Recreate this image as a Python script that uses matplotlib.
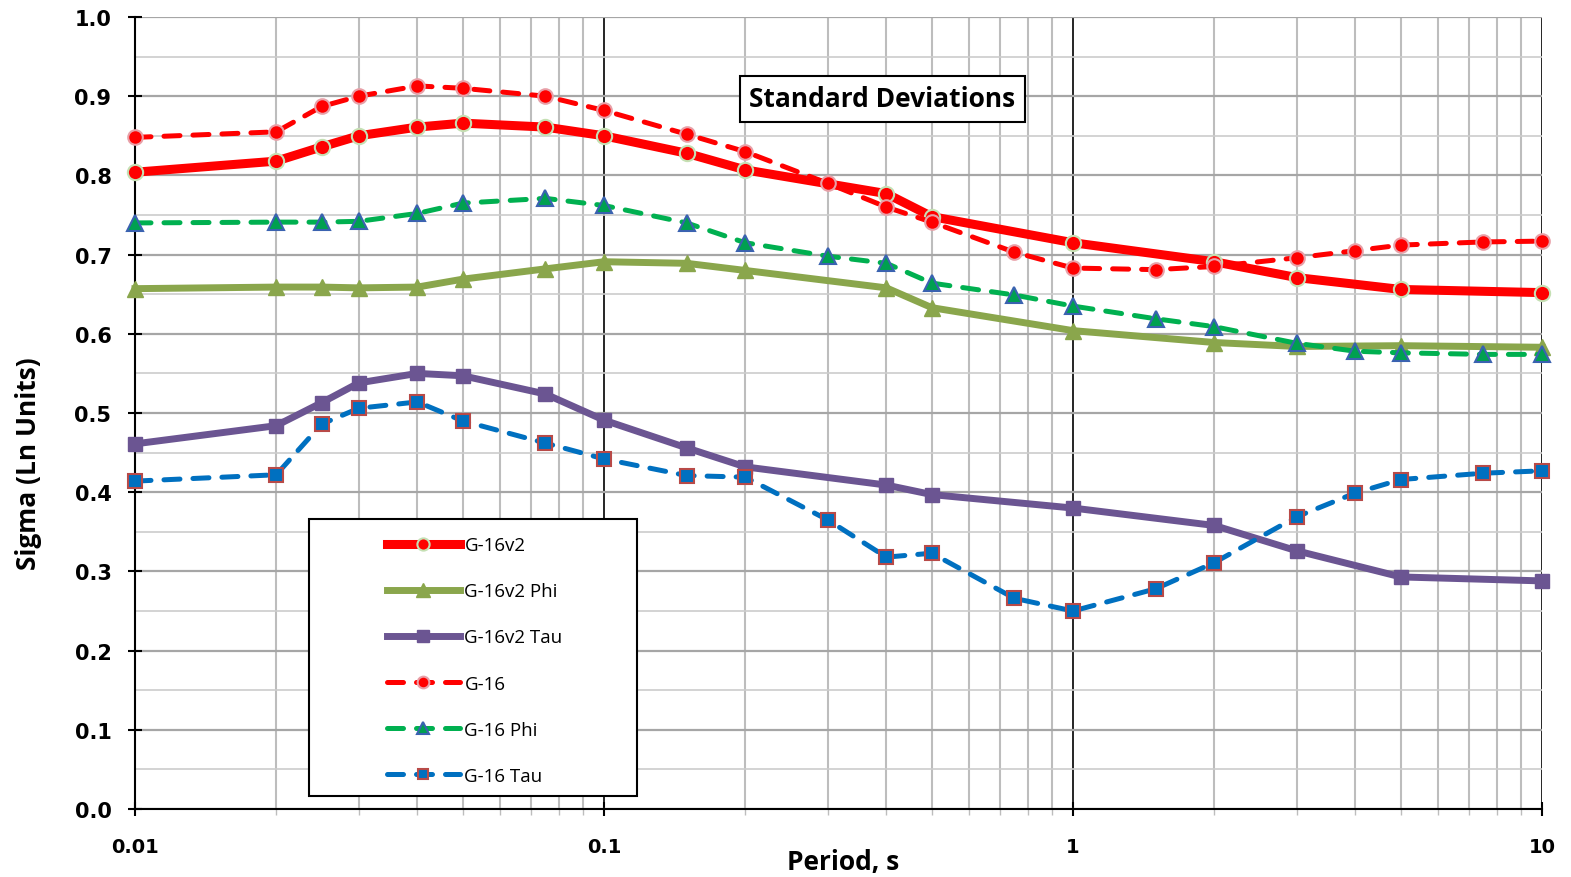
import matplotlib
matplotlib.use("Agg")
import matplotlib.pyplot as plt
from matplotlib.patches import Rectangle
from matplotlib.ticker import FixedLocator, FuncFormatter, MultipleLocator, NullFormatter

# periods (s) and sigma values
periods_v2 = [0.01, 0.02, 0.025, 0.03, 0.04, 0.05, 0.075, 0.1, 0.15, 0.2, 0.4, 0.5, 1, 2, 3, 5, 10]
sigma_v2 = [0.804, 0.818, 0.836, 0.850, 0.861, 0.866, 0.861, 0.850, 0.828, 0.807, 0.777, 0.748, 0.715, 0.691, 0.671, 0.656, 0.652]
phi_v2 = [0.657, 0.659, 0.659, 0.658, 0.659, 0.669, 0.682, 0.691, 0.689, 0.680, 0.658, 0.633, 0.604, 0.589, 0.584, 0.585, 0.583]
tau_v2 = [0.461, 0.484, 0.513, 0.538, 0.550, 0.547, 0.524, 0.491, 0.456, 0.432, 0.409, 0.397, 0.380, 0.358, 0.326, 0.293, 0.288]

periods_g16 = [0.01, 0.02, 0.025, 0.03, 0.04, 0.05, 0.075, 0.1, 0.15, 0.2, 0.3, 0.4, 0.5, 0.75, 1, 1.5, 2, 3, 4, 5, 7.5, 10]
sigma_g16 = [0.848, 0.855, 0.887, 0.900, 0.913, 0.910, 0.900, 0.882, 0.852, 0.830, 0.790, 0.760, 0.741, 0.703, 0.683, 0.681, 0.685, 0.696, 0.705, 0.712, 0.716, 0.717]
phi_g16 = [0.740, 0.741, 0.741, 0.742, 0.752, 0.765, 0.771, 0.762, 0.740, 0.715, 0.698, 0.689, 0.664, 0.649, 0.635, 0.619, 0.609, 0.588, 0.578, 0.576, 0.574, 0.574]
tau_g16 = [0.414, 0.422, 0.486, 0.506, 0.514, 0.490, 0.462, 0.442, 0.421, 0.419, 0.365, 0.318, 0.323, 0.266, 0.250, 0.278, 0.311, 0.369, 0.399, 0.416, 0.424, 0.427]

x_ticks = [0.01, 0.1, 1, 10]
x_tick_labels = ["0.01", "0.1", "1", "10"]

fig = plt.figure(figsize=(15.71, 8.78), dpi=100)
ax = fig.add_axes([135 / 1571, 68 / 878, 1407 / 1571, 792 / 878])

# solid = G-16v2, dashed = G-16
ax.plot(periods_v2, sigma_v2, color="#ff0000", lw=6.5, marker="o", ms=11,
        mfc="#ff0000", mec="#c5e0b4", mew=1.5, label="G-16v2", clip_on=False, zorder=3)
ax.plot(periods_v2, phi_v2, color="#8aa64c", lw=5, marker="^", ms=12,
        mfc="#8aa64c", mec="#8aa64c", label="G-16v2 Phi", clip_on=False, zorder=3)
ax.plot(periods_v2, tau_v2, color="#6b5592", lw=5, marker="s", ms=10,
        mfc="#6b5592", mec="#6b5592", label="G-16v2 Tau", clip_on=False, zorder=3)

dash = (3.2, 2.6)
ax.plot(periods_g16, sigma_g16, color="#ff0000", lw=3.6, ls=(0, dash), dash_capstyle="round",
        marker="o", ms=10.5, mfc="#ff0000", mec="#e8a0a8", mew=1.5, label="G-16", clip_on=False, zorder=4)
ax.plot(periods_g16, phi_g16, color="#00b050", lw=3.6, ls=(0, dash), dash_capstyle="round",
        marker="^", ms=11, mfc="#00a050", mec="#3a62b0", mew=1.5, label="G-16 Phi", clip_on=False, zorder=4)
ax.plot(periods_g16, tau_g16, color="#0070c0", lw=3.6, ls=(0, dash), dash_capstyle="round",
        marker="s", ms=9.5, mfc="#0070c0", mec="#b84a48", mew=1.5, label="G-16 Tau", clip_on=False, zorder=4)

ax.set_xscale("log")
ax.set_xlim(0.01, 10)
ax.set_ylim(0, 1.0)
ax.xaxis.set_major_locator(FixedLocator(x_ticks))
ax.xaxis.set_major_formatter(FuncFormatter(lambda v, p: x_tick_labels[x_ticks.index(v)] if v in x_ticks else ""))
ax.xaxis.set_minor_formatter(NullFormatter())
ax.yaxis.set_major_locator(MultipleLocator(0.1))
ax.yaxis.set_minor_locator(MultipleLocator(0.05))
ax.yaxis.set_major_formatter(FuncFormatter(lambda v, p: f"{v:.1f}"))

ax.grid(which="major", axis="x", color="black", lw=1.2, zorder=1)
ax.grid(which="minor", axis="x", color="#bdbdbd", lw=1.5, zorder=1)
ax.grid(which="major", axis="y", color="#a6a6a6", lw=1.6, zorder=1)
ax.grid(which="minor", axis="y", color="#cccccc", lw=1.2, zorder=1)
ax.set_axisbelow(True)

for s in ["top", "right"]:
    ax.spines[s].set_visible(False)
for s in ["left", "bottom"]:
    ax.spines[s].set_linewidth(1.5)
    ax.spines[s].set_zorder(2)

ax.tick_params(which="major", direction="inout", length=10, width=1.5, color="black")
ax.tick_params(axis="y", which="minor", length=0)
ax.tick_params(axis="x", which="minor", direction="out", length=4, width=1, color="#bdbdbd")
ax.tick_params(axis="y", pad=12)
ax.tick_params(axis="x", pad=15)
for lab in ax.get_yticklabels():
    lab.set_fontfamily("DejaVu Sans")
    lab.set_fontweight("bold")
    lab.set_fontsize(15)
for lab in ax.get_xticklabels():
    lab.set_fontfamily("DejaVu Sans")
    lab.set_fontweight("bold")
    lab.set_fontsize(14)

ax.set_xlabel("Period, s", fontfamily="Open Sans", fontweight="bold", fontsize=19)
ax.set_ylabel("Sigma (Ln Units)", fontfamily="Open Sans", fontweight="bold", fontsize=19)
ax.xaxis.set_label_coords(0.503, -0.049)
ax.yaxis.set_label_coords(-0.066, 0.437)

ax.text(0.531, 0.897, "Standard Deviations", transform=ax.transAxes, ha="center", va="center",
        fontfamily="Open Sans", fontweight="bold", fontsize=19, zorder=6,
        bbox=dict(boxstyle="square,pad=0.36", fc="white", ec="black", lw=1.5))

# legend frame drawn separately so the entries can sit inside a wider box
ax.add_patch(Rectangle((0.124, 0.016), 0.233, 0.35, transform=ax.transAxes,
                       fc="white", ec="black", lw=1.5, zorder=5))
leg = ax.legend(loc="upper left", bbox_to_anchor=(0.1695, 0.361), frameon=False,
                prop={"family": "Open Sans", "size": 13.5}, handlelength=3.9,
                handletextpad=0.25, labelspacing=1.5, markerscale=0.8, borderpad=0.2)
leg.set_zorder(6)

fig.savefig("out.png", dpi=100)
